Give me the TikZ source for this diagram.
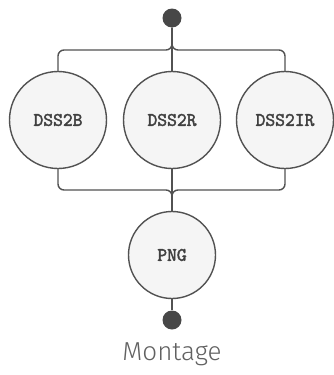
\documentclass[tikz,border=0pt]{standalone}
\usepackage{fontspec}
\newfontfamily\capfont{Fira Sans Light}
\newfontfamily\lblfont[FakeBold=2.2]{Latin Modern Mono}
\begin{document}
\begin{tikzpicture}[x=1pt,y=-1pt,
  line/.style={draw=black!68,line width=1.4pt},
  ring/.style={circle,draw=black!68,line width=1.4pt,fill=black!4,inner sep=0pt,minimum size=#1,font=\lblfont\fontsize{19}{19}\selectfont,text=black!75},
  dot/.style={circle,fill=black!72,inner sep=0pt,minimum size=19pt}]
\useasboundingbox (0,0) rectangle (333,375);
\node[dot] (top) at (172,18) {};
\node[ring=97pt] (b) at (58,120) {DSS2B};
\node[ring=97pt] (r) at (172,120) {DSS2R};
\node[ring=97pt] (ir) at (285,120) {DSS2IR};
\node[ring=87pt] (png) at (172,255) {PNG};
\node[dot] (bot) at (172,320) {};
\node[font=\capfont\fontsize{26}{26}\selectfont,text=black!62] (cap) at (172,354) {Montage};
\coordinate (tl) at (58,50);
\coordinate (tc) at (172,50);
\coordinate (tr) at (285,50);
\coordinate (bl) at (58,190);
\coordinate (bc) at (172,190);
\coordinate (br) at (285,190);
\draw[line,rounded corners=6pt] (b.north) -- (tl) -- (tc) -- (top);
\draw[line,rounded corners=6pt] (ir.north) -- (tr) -- (tc) -- (top);
\draw[line] (r.north) -- (top);
\draw[line,rounded corners=6pt] (b.south) -- (bl) -- (bc) -- (png.north);
\draw[line,rounded corners=6pt] (ir.south) -- (br) -- (bc) -- (png.north);
\draw[line] (r.south) -- (png.north);
\draw[line] (png.south) -- (bot);
\end{tikzpicture}
\end{document}
